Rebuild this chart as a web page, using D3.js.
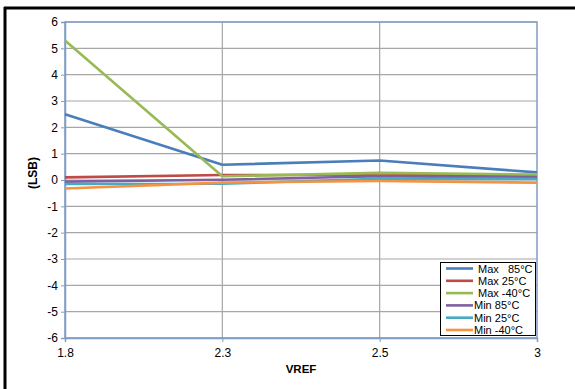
<!DOCTYPE html>
<html><head><meta charset="utf-8">
<script src="https://cdn.jsdelivr.net/npm/d3@7"></script>
<style>
body{margin:0;background:#fff;}
svg{display:block;font-family:"Liberation Sans",Arial,sans-serif;}
</style></head>
<body><svg id="c" width="575" height="389"></svg>
<script>
const categories = ["1.8","2.3","2.5","3"];
const seriesNames = ["Max   85°C","Max 25°C","Max -40°C","Min 85°C","Min 25°C","Min -40°C"];
const maxHot  = [2.5, 0.58, 0.74, 0.29];
const max25   = [0.10, 0.19, 0.19, 0.16];
const maxCold = [5.3, 0.14, 0.27, 0.21];
const minHot  = [-0.06, 0.01, 0.14, 0.09];
const min25   = [-0.15, -0.14, 0.05, 0.04];
const minCold = [-0.32, -0.10, -0.04, -0.10];
const yTicks = [-6,-5,-4,-3,-2,-1,0,1,2,3,4,5,6];
const colors = ["#4A7EBB","#BE4B48","#98B954","#7D60A0","#46AAC5","#F69240"];
const allSeries = [maxHot,max25,maxCold,minHot,min25,minCold];

const svg = d3.select("#c");
const FF = "Liberation Sans, Arial, sans-serif";
// outer frame (only top & left visible)
svg.append("line").attr("x1",4).attr("x2",575).attr("y1",8).attr("y2",8).attr("stroke","#000").attr("stroke-width",3);
svg.append("line").attr("x1",5).attr("x2",5).attr("y1",7).attr("y2",389).attr("stroke","#000").attr("stroke-width",3);

const L=65,R=537,T=22,B=338;
const x = d3.scalePoint().domain(categories).range([L,R]);
const y = d3.scaleLinear().domain([-6,6]).range([B,T]);

// gridlines
svg.append("g").selectAll("line").data(yTicks).join("line")
  .attr("x1",L).attr("x2",R).attr("y1",d=>y(d)).attr("y2",d=>y(d))
  .attr("stroke","#A6A6A6").attr("stroke-width",1.2);
svg.append("g").selectAll("line").data(categories.slice(1,-1)).join("line")
  .attr("x1",d=>x(d)).attr("x2",d=>x(d)).attr("y1",T).attr("y2",B)
  .attr("stroke","#A6A6A6").attr("stroke-width",1.2);

// plot border
svg.append("rect").attr("x",L).attr("y",T).attr("width",R-L).attr("height",B-T)
  .attr("fill","none").attr("stroke","#7F9DC4").attr("stroke-width",1.5);

// axes
const yAxis = d3.axisLeft(y).tickValues(yTicks).tickSize(4).tickPadding(4).tickFormat(d=>String(d));
const gy = svg.append("g").attr("transform",`translate(${L},0)`).call(yAxis)
  .attr("font-size",12).attr("font-family",FF);
gy.select(".domain").attr("stroke","#7F9DC4").attr("stroke-width",1.5);
gy.selectAll(".tick line").attr("stroke","#7F9DC4");
gy.selectAll("text").attr("fill","#000").attr("x",-7);

const xAxis = d3.axisBottom(x).tickSize(4).tickPadding(6);
const gx = svg.append("g").attr("transform",`translate(0,${B})`).call(xAxis)
  .attr("font-size",12).attr("font-family",FF);
gx.select(".domain").attr("stroke","#7F9DC4").attr("stroke-width",1.5);
gx.selectAll(".tick line").attr("stroke","#7F9DC4");
gx.selectAll("text").attr("fill","#000");

// titles
svg.append("text").attr("x",(L+R)/2).attr("y",373).attr("text-anchor","middle")
  .attr("font-size",11.5).attr("font-weight","bold").text("VREF");
svg.append("text").attr("transform",`translate(37,${(T+B)/2-7}) rotate(-90)`).attr("text-anchor","middle")
  .attr("font-size",12).attr("font-weight","bold").text("(LSB)");

// lines
const line = d3.line().x((d,i)=>x(categories[i])).y(d=>y(d));
svg.append("g").selectAll("path").data(allSeries).join("path")
  .attr("d",line).attr("fill","none").attr("stroke",(d,i)=>colors[i])
  .attr("stroke-width",2.6).attr("stroke-linejoin","round");

// legend
const lg = svg.append("g");
lg.append("rect").attr("x",440.5).attr("y",262.5).attr("width",95).attr("height",73)
  .attr("fill","#fff").attr("stroke","#000").attr("stroke-width",1);
seriesNames.forEach((n,i)=>{
  const yy = 268.5 + i*12.3;
  lg.append("line").attr("x1",446).attr("x2",473).attr("y1",yy).attr("y2",yy)
    .attr("stroke",colors[i]).attr("stroke-width",2.6);
  lg.append("text").attr("x", i<3?478:474).attr("y",yy+4).attr("font-size",11)
    .attr("xml:space","preserve").style("white-space","pre").text(n);
});
</script></body></html>
